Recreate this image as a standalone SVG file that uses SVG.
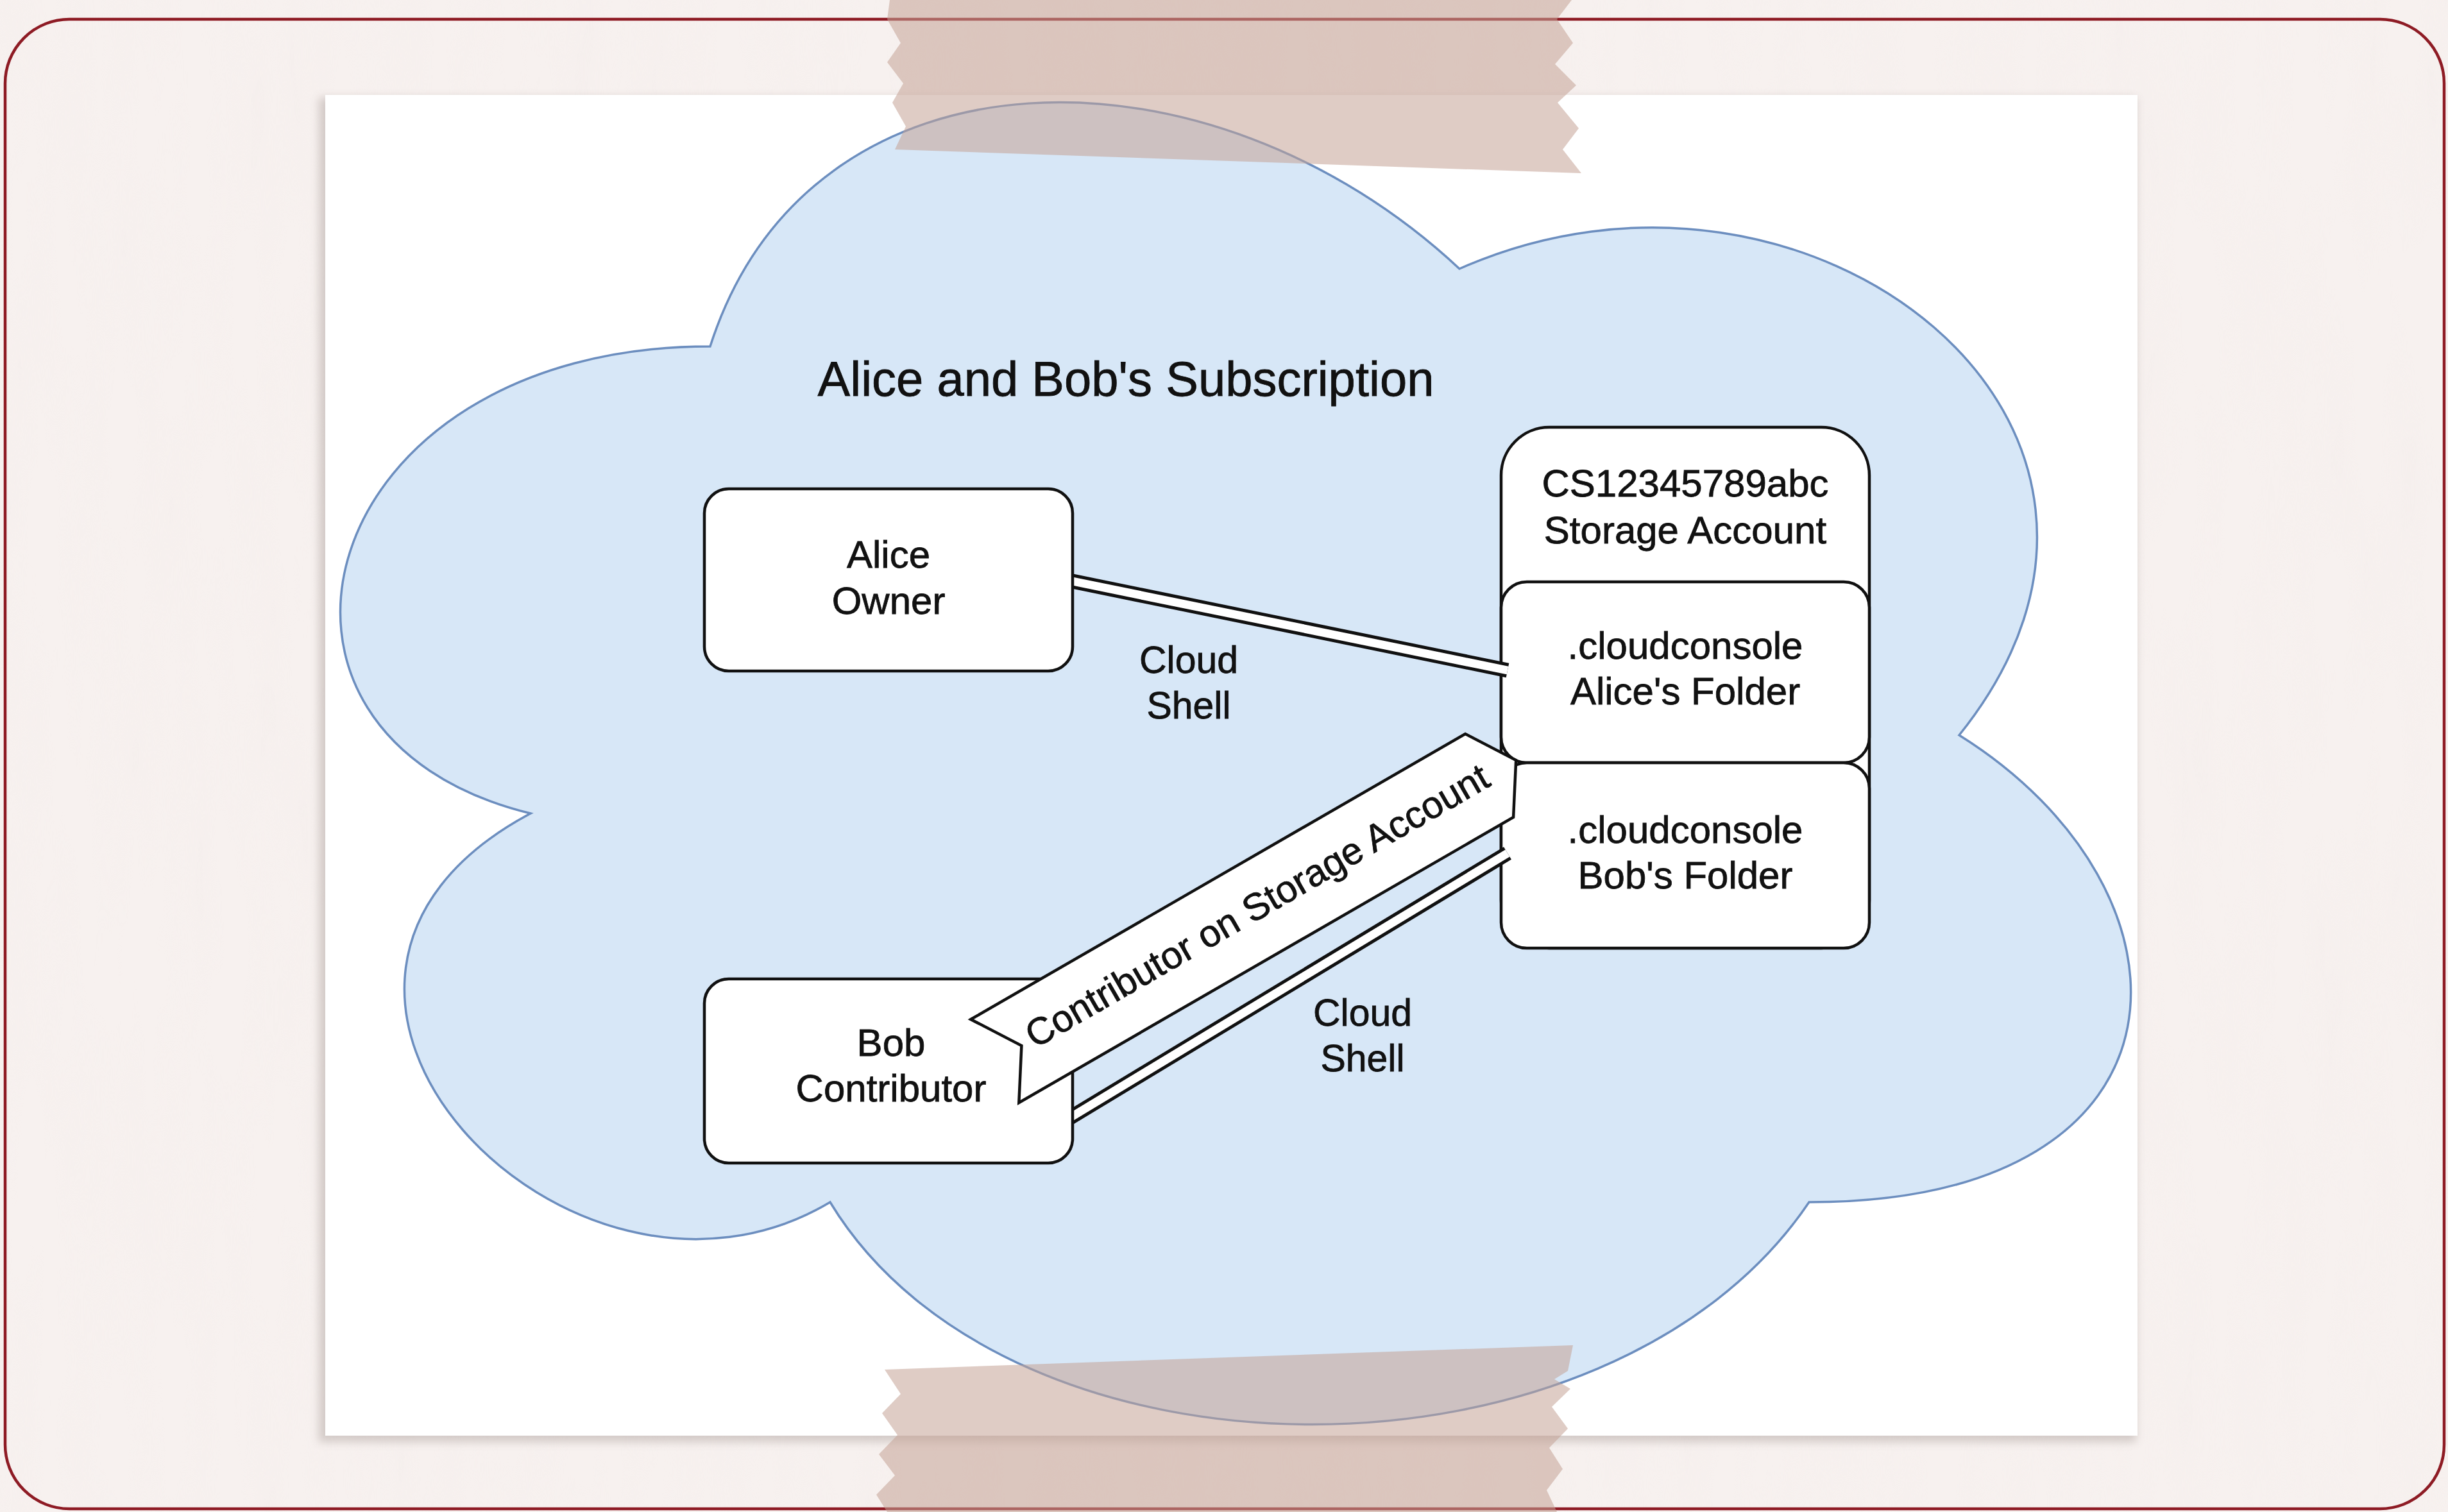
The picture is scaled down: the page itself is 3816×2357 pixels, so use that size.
<svg xmlns="http://www.w3.org/2000/svg" width="3816" height="2357" viewBox="0 0 3816 2357">
  <defs>
    <filter id="tex" x="0" y="0" width="100%" height="100%">
      <feTurbulence type="fractalNoise" baseFrequency="0.018 0.003" numOctaves="3" seed="7" result="n"/>
      <feColorMatrix in="n" type="matrix" values="0 0 0 0 0.88  0 0 0 0 0.82  0 0 0 0 0.81  0.9 0 0 0 -0.35"/>
    </filter>
    <filter id="shadow" x="-5%" y="-5%" width="110%" height="110%">
      <feGaussianBlur stdDeviation="7"/>
    </filter>
    <style>
      .box { fill: #ffffff; stroke: #111111; stroke-width: 4.5; }
      .t { font-family: "Liberation Sans", Arial, Helvetica, sans-serif; font-size: 60px; fill: #111111; stroke: #111111; stroke-width: 0.8; text-anchor: middle; }
      .title { font-size: 76px; }
      .lbl { font-size: 59px; }
      .outer { fill: none; stroke: #111111; stroke-width: 23; stroke-linecap: butt; }
      .inner { fill: none; stroke: #ffffff; stroke-width: 13; stroke-linecap: butt; }
      .tape { fill: #c4a396; fill-opacity: 0.55; }
    </style>
  </defs>

  <!-- background texture -->
  <rect x="0" y="0" width="3816" height="2357" fill="#f7f1ef"/>
  <rect x="0" y="0" width="3816" height="2357" filter="url(#tex)" opacity="0.5"/>
  <!-- frame -->
  <rect x="8" y="30" width="3802" height="2322" rx="100" ry="100" fill="none" stroke="#8e1b24" stroke-width="4.5"/>

  <!-- paper -->
  <rect x="497" y="152" width="2833" height="2096" fill="#6b5a55" opacity="0.25" filter="url(#shadow)"/>
  <rect x="507" y="148" width="2825" height="2090" fill="#ffffff"/>

  <!-- cloud -->
  <g id="subscription-cloud">
    <path d="M 1107 540 C 484 540, 328 1146, 827 1268 C 328 1534, 889 2116, 1294 1874 C 1574 2336, 2509 2336, 2820 1874 C 3443 1874, 3443 1389, 3054 1146 C 3443 662, 2820 177, 2275 419 C 1886 55, 1263 55, 1107 540 Z" fill="#d7e7f7" stroke="#6c8ebf" stroke-width="3.5"/>
    <text class="t title" x="1755" y="617">Alice and Bob's Subscription</text>
  </g>

  <!-- storage account container -->
  <g id="storage-account">
    <rect class="box" x="2340" y="666" width="574" height="812" rx="75" ry="75"/>
    <text class="t" x="2627" y="774">CS12345789abc</text>
    <text class="t" x="2627" y="847">Storage Account</text>
  </g>
  <g id="alice-folder">
    <rect class="box" x="2340" y="907" width="574" height="282" rx="40" ry="40"/>
    <text class="t" x="2627" y="1027">.cloudconsole</text>
    <text class="t" x="2627" y="1098">Alice's Folder</text>
  </g>
  <g id="bob-folder">
    <rect class="box" x="2340" y="1189" width="574" height="289" rx="40" ry="40"/>
    <text class="t" x="2627" y="1314">.cloudconsole</text>
    <text class="t" x="2627" y="1385">Bob's Folder</text>
  </g>

  <!-- connectors -->
  <g id="connectors">
    <g id="alice-cloudshell">
      <line class="outer" x1="1662" y1="904" x2="2350" y2="1045"/>
      <line class="inner" x1="1662" y1="904" x2="2350" y2="1045"/>
    </g>
    <g id="bob-cloudshell">
      <line class="outer" x1="1662" y1="1746" x2="2350" y2="1330"/>
      <line class="inner" x1="1662" y1="1746" x2="2350" y2="1330"/>
    </g>
    <text class="t lbl" x="1853" y="1049">Cloud</text>
    <text class="t lbl" x="1853" y="1120">Shell</text>
    <text class="t lbl" x="2124" y="1599">Cloud</text>
    <text class="t lbl" x="2124" y="1670">Shell</text>
  </g>

  <!-- user nodes -->
  <g id="alice">
    <rect class="box" x="1098" y="762" width="574" height="284" rx="38" ry="38"/>
    <text class="t" x="1385" y="885">Alice</text>
    <text class="t" x="1385" y="957">Owner</text>
  </g>
  <g id="bob">
    <rect class="box" x="1098" y="1526" width="574" height="287" rx="38" ry="38"/>
    <text class="t" x="1389" y="1646">Bob</text>
    <text class="t" x="1389" y="1717">Contributor</text>
  </g>

  <!-- role assignment tag -->
  <g id="contributor-role" transform="translate(1957 1419.5) rotate(-30)">
    <polygon class="box" points="-469,-75 421,-75 469,0 421,75 -469,75 -421,0"/>
    <text class="t lbl" x="6" y="15">Contributor on Storage Account</text>
  </g>

  <!-- tape -->
  <polygon class="tape" points="1387,0 2450,0 2427,30 2452,67 2424,100 2457,133 2428,160 2461,200 2436,233 2465,270 1395,233 1412,197 1391,160 1408,130 1383,97 1404,67 1383,30"/>
  <polygon class="tape" points="1379,2135 2452,2097 2444,2137 2423,2150 2448,2165 2419,2193 2444,2227 2415,2257 2436,2290 2411,2323 2427,2357 1383,2357 1366,2330 1395,2300 1370,2267 1399,2237 1375,2203 1404,2173"/>
</svg>
